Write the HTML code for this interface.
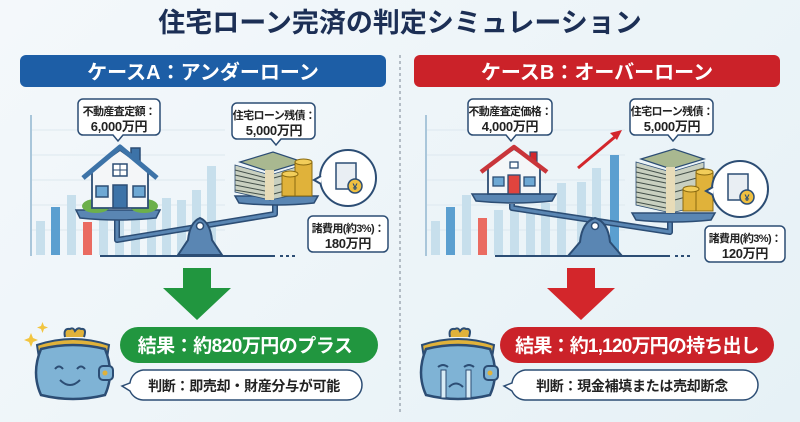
<!DOCTYPE html>
<html><head><meta charset="utf-8"><style>
html,body{margin:0;padding:0}
body{width:800px;height:422px;overflow:hidden;background:linear-gradient(135deg,#f4f8fb,#e6f1f6);font-family:"Liberation Sans","Noto Sans CJK JP",sans-serif}
svg{display:block}
text{font-family:"Liberation Sans","Noto Sans CJK JP",sans-serif;font-weight:bold}
.b1{font-size:11px;letter-spacing:-0.6px}
.b2{font-size:13px;letter-spacing:-0.3px}
</style></head><body>
<svg width="800" height="422" viewBox="0 0 800 422" xmlns="http://www.w3.org/2000/svg">
<text x="400" y="32" text-anchor="middle" font-size="27" fill="#1c2f55">住宅ローン完済の判定シミュレーション</text>
<line x1="400" y1="55" x2="400" y2="412" stroke="#7a8592" stroke-width="1" stroke-dasharray="3,3"/>
<rect x="20" y="55" width="366" height="32" rx="6" fill="#1d5ea6"/>
<text x="203" y="79" text-anchor="middle" font-size="20" fill="#fff">ケースA：アンダーローン</text>
<rect x="414" y="55" width="366" height="32" rx="6" fill="#cb2229"/>
<text x="597" y="79" text-anchor="middle" font-size="20" fill="#fff">ケースB：オーバーローン</text>

<g stroke="#dde8ef" stroke-width="1">
<line x1="30" y1="130" x2="225" y2="130"/><line x1="30" y1="155" x2="225" y2="155"/><line x1="30" y1="180" x2="225" y2="180"/><line x1="30" y1="205" x2="225" y2="205"/><line x1="30" y1="230" x2="225" y2="230"/>
<line x1="425" y1="130" x2="625" y2="130"/><line x1="425" y1="155" x2="625" y2="155"/><line x1="425" y1="180" x2="625" y2="180"/><line x1="425" y1="205" x2="625" y2="205"/><line x1="425" y1="230" x2="625" y2="230"/>
</g>
<line x1="31" y1="115" x2="31" y2="256" stroke="#a9c6da" stroke-width="2"/>
<g fill="#c7dfec">
<rect x="36" y="221" width="9" height="34"/><rect x="67" y="195" width="9" height="60"/><rect x="99" y="215" width="9" height="40"/><rect x="115" y="210" width="9" height="45"/><rect x="131" y="212" width="9" height="43"/><rect x="147" y="205" width="9" height="50"/><rect x="162" y="198" width="9" height="57"/><rect x="177" y="200" width="9" height="55"/><rect x="192" y="190" width="9" height="65"/><rect x="207" y="166" width="9" height="89"/>
</g>
<rect x="51" y="207" width="9" height="48" fill="#5b9fd0"/>
<rect x="83" y="222" width="9" height="33" fill="#ea6b61"/>
<line x1="100" y1="256" x2="275" y2="256" stroke="#2c4d74" stroke-width="2"/>
<line x1="280" y1="256" x2="295" y2="256" stroke="#2c4d74" stroke-width="2" stroke-dasharray="3,3"/>

<path d="M117 218 L117 240 L275 214 L275 205" fill="none" stroke="#2c4d74" stroke-width="6" stroke-linejoin="round"/>
<path d="M117 218 L117 240 L275 214 L275 205" fill="none" stroke="#5a86b3" stroke-width="3" stroke-linejoin="round"/>
<path d="M178 255 L188 240 Q190 222 200 218 Q210 222 212 240 L222 255 Z" fill="#5a86b3" stroke="#2c4d74" stroke-width="2"/>
<circle cx="200" cy="226" r="3.5" fill="#fff" stroke="#2c4d74" stroke-width="1.5"/>
<path d="M76 210 L160 210 L156 218 Q118 222 80 218 Z" fill="#5a86b3" stroke="#2c4d74" stroke-width="1.5"/>
<path d="M235 196 L318 196 L314 203 Q276 207 239 203 Z" fill="#5a86b3" stroke="#2c4d74" stroke-width="1.5"/>
<ellipse cx="96" cy="206" rx="14" ry="7" fill="#6cb04b"/><ellipse cx="144" cy="206" rx="14" ry="7" fill="#6cb04b"/>
<rect x="131" y="148" width="9" height="17" fill="#3d73a8" stroke="#2c4d74" stroke-width="1.5"/>
<path d="M92 170 L92 208 L148 208 L148 170 L120 150 Z" fill="#f4f6f8" stroke="#2c4d74" stroke-width="1.8"/>
<path d="M83 178 L120 147 L157 178" fill="none" stroke="#3d73a8" stroke-width="5" stroke-linejoin="round"/>
<rect x="113" y="164" width="14" height="12" fill="#fff" stroke="#2c4d74" stroke-width="1.5"/><line x1="120" y1="164" x2="120" y2="176" stroke="#2c4d74"/><line x1="113" y1="170" x2="127" y2="170" stroke="#2c4d74"/>
<rect x="96" y="186" width="12" height="11" fill="#6ea8d4" stroke="#2c4d74" stroke-width="1.5"/><rect x="133" y="186" width="12" height="11" fill="#6ea8d4" stroke="#2c4d74" stroke-width="1.5"/>
<rect x="113" y="185" width="14" height="23" fill="#3d73a8" stroke="#2c4d74" stroke-width="1.5"/>
<g transform="translate(235,150)">
<path d="M5 12 L38 2 L68 12 L35 22 Z" fill="#a9b890" stroke="#2c4d74" stroke-width="1.2"/>
<path d="M0 15 L35 25 L68 15 L68 43 L35 50 L0 42 Z" fill="#c9d0c0" stroke="#2c4d74" stroke-width="0.8"/>
<g stroke="#44504a" stroke-width="1"><line x1="0" y1="20" x2="35" y2="29"/><line x1="0" y1="25" x2="35" y2="33"/><line x1="0" y1="30" x2="35" y2="37"/><line x1="0" y1="35" x2="35" y2="42"/><line x1="0" y1="40" x2="35" y2="46"/><line x1="35" y1="29" x2="68" y2="20"/><line x1="35" y1="37" x2="68" y2="28"/><line x1="35" y1="45" x2="68" y2="36"/></g>
<rect x="30" y="20" width="9" height="30" fill="#e8dcb8"/>
<rect x="47" y="24" width="16" height="22" fill="#e0b23a" stroke="#8a6a10"/><rect x="60" y="12" width="17" height="34" fill="#e0b23a" stroke="#8a6a10"/>
<ellipse cx="68.5" cy="12" rx="8.5" ry="3" fill="#f2cd5a" stroke="#8a6a10"/><ellipse cx="55" cy="24" rx="8" ry="3" fill="#f2cd5a" stroke="#8a6a10"/>
</g>
<circle cx="348" cy="178" r="28" fill="#fff" stroke="#2c4d74" stroke-width="2"/>
<path d="M321 176 L314 180 L321 184" fill="#fff" stroke="#2c4d74" stroke-width="2"/>
<rect x="336" y="163" width="20" height="26" fill="#e9eef3" stroke="#2c4d74" stroke-width="1.5"/>
<circle cx="355" cy="186" r="7" fill="#f0c040" stroke="#2c4d74" stroke-width="1.5"/><text x="355" y="190" text-anchor="middle" font-size="9" fill="#2c4d74">¥</text>
<g fill="#fff" stroke="#2c4d74" stroke-width="1.5">
<path d="M83 99 h72 a5 5 0 0 1 5 5 v26 a5 5 0 0 1 -5 5 h-32 l-5 6 l-5 -6 h-30 a5 5 0 0 1 -5 -5 v-26 a5 5 0 0 1 5 -5z"/>
<path d="M237 103 h73 a5 5 0 0 1 5 5 v26 a5 5 0 0 1 -5 5 h-29 l-5 6 l-5 -6 h-34 a5 5 0 0 1 -5 -5 v-26 a5 5 0 0 1 5 -5z"/>
<path d="M313 216 h70 a5 5 0 0 1 5 5 v26 a5 5 0 0 1 -5 5 h-70 a5 5 0 0 1 -5 -5 v-26 a5 5 0 0 1 5 -5z"/>
</g>
<text x="119" y="115" text-anchor="middle" class="b1" fill="#222">不動産査定額：</text>
<text x="119" y="131" text-anchor="middle" class="b2" fill="#222">6,000万円</text>
<text x="274" y="119" text-anchor="middle" class="b1" fill="#222">住宅ローン残債：</text>
<text x="274" y="135" text-anchor="middle" class="b2" fill="#222">5,000万円</text>
<text x="348" y="232" text-anchor="middle" class="b1" fill="#222">諸費用(約3%)：</text>
<text x="348" y="248" text-anchor="middle" class="b2" fill="#222">180万円</text>
<path d="M183 268 h28 v20 h20 l-34 32 l-34 -32 h20 z" fill="#21963f"/>
<g transform="translate(33,323)">
<path d="M4 22 Q40 10 76 22 L74 35 L6 35 Z" fill="#e0b23a" stroke="#2c4d74" stroke-width="2"/>
<path d="M32 14 q-2 -9 5 -8 q3 -2 5 2 q3 -4 6 -2 q6 -1 3 8" fill="#e0b23a" stroke="#2c4d74" stroke-width="2"/>
<path d="M8 26 Q40 18 72 26 Q82 50 72 72 Q40 80 8 72 Q-2 50 8 26 Z" fill="#7fb3d5" stroke="#2c4d74" stroke-width="2.5"/>
<rect x="66" y="43" width="14" height="14" rx="4" fill="#7fb3d5" stroke="#2c4d74" stroke-width="2"/><circle cx="72" cy="50" r="2.5" fill="#e0b23a"/>
<path d="M22 46 q4 -5 8 0 M44 46 q4 -5 8 0" fill="none" stroke="#2c4d74" stroke-width="2"/>
<path d="M27 57 q10 10 20 0" fill="none" stroke="#2c4d74" stroke-width="2"/>
</g>
<path d="M-6 12 l2 -5 l2 5 l5 2 l-5 2 l-2 5 l-2 -5 l-5 -2z" transform="translate(35,326)" fill="#f2c540"/>
<path d="M-4 8 l1.5 -4 l1.5 4 l4 1.5 l-4 1.5 l-1.5 4 l-1.5 -4 l-4 -1.5z" transform="translate(45,318)" fill="#f2c540"/>
<rect x="120" y="327" width="258" height="36" rx="18" fill="#21963f"/>
<text x="245" y="352" text-anchor="middle" font-size="19" letter-spacing="-0.5" fill="#fff">結果：約820万円のプラス</text>
<path d="M143 370 h204 a15 15 0 0 1 0 30 h-204 a15 15 0 0 1 -13 -9 l-8 -5 l8 -3 a15 15 0 0 1 13 -13z" fill="#fff" stroke="#2c4d74" stroke-width="1.5"/>
<text x="244" y="391" text-anchor="middle" font-size="14" letter-spacing="-0.3" fill="#222">判断：即売却・財産分与が可能</text>

<line x1="426" y1="115" x2="426" y2="256" stroke="#a9c6da" stroke-width="2"/>
<g fill="#c7dfec">
<rect x="431" y="221" width="9" height="34"/><rect x="462" y="195" width="9" height="60"/><rect x="494" y="210" width="9" height="45"/><rect x="510" y="205" width="9" height="50"/><rect x="526" y="212" width="9" height="43"/><rect x="541" y="203" width="9" height="52"/><rect x="557" y="183" width="9" height="72"/><rect x="577" y="182" width="9" height="73"/><rect x="592" y="168" width="9" height="87"/>
</g>
<rect x="446" y="207" width="9" height="48" fill="#5b9fd0"/>
<rect x="478" y="218" width="9" height="37" fill="#ea6b61"/>
<rect x="610" y="155" width="9" height="100" fill="#5b9fd0"/>
<line x1="495" y1="256" x2="670" y2="256" stroke="#2c4d74" stroke-width="2"/>
<line x1="675" y1="256" x2="690" y2="256" stroke="#2c4d74" stroke-width="2" stroke-dasharray="3,3"/>
<path d="M578 168 L616 136" stroke="#d3262b" stroke-width="3"/><path d="M622 130 l-12 3 l7 7 z" fill="#d3262b"/>
<path d="M512 204 L512 208 L670 232 L670 218" fill="none" stroke="#2c4d74" stroke-width="6" stroke-linejoin="round"/>
<path d="M512 204 L512 208 L670 232 L670 218" fill="none" stroke="#5a86b3" stroke-width="3" stroke-linejoin="round"/>
<path d="M568 256 L580 242 Q582 222 595 218 Q608 222 610 242 L622 256 Z" fill="#5a86b3" stroke="#2c4d74" stroke-width="2"/>
<circle cx="595" cy="226" r="3.5" fill="#fff" stroke="#2c4d74" stroke-width="1.5"/>
<path d="M472 194 L556 194 L552 201 Q514 205 476 201 Z" fill="#5a86b3" stroke="#2c4d74" stroke-width="1.5"/>
<path d="M632 213 L715 213 L711 220 Q673 224 636 220 Z" fill="#5a86b3" stroke="#2c4d74" stroke-width="1.5"/>
<rect x="530" y="152" width="7" height="14" fill="#d3262b" stroke="#2c4d74" stroke-width="1.2"/>
<path d="M488 166 L488 194 L540 194 L540 166 L514 149 Z" fill="#f4f6f8" stroke="#2c4d74" stroke-width="1.8"/>
<path d="M481 172 L514 147 L547 172" fill="none" stroke="#c9353a" stroke-width="4.5" stroke-linejoin="round"/>
<rect x="510" y="162" width="8" height="6" fill="#fff" stroke="#2c4d74" stroke-width="1.3"/>
<rect x="493" y="177" width="11" height="9" fill="#6ea8d4" stroke="#2c4d74" stroke-width="1.3"/><rect x="524" y="177" width="11" height="9" fill="#6ea8d4" stroke="#2c4d74" stroke-width="1.3"/>
<rect x="508" y="175" width="12" height="19" fill="#e0443e" stroke="#2c4d74" stroke-width="1.3"/>
<g transform="translate(636,147)">
<path d="M5 12 L38 2 L68 12 L35 22 Z" fill="#a9b890" stroke="#2c4d74" stroke-width="1.2"/>
<path d="M0 15 L35 25 L68 15 L68 58 L35 66 L0 58 Z" fill="#c9d0c0" stroke="#2c4d74" stroke-width="0.8"/>
<g stroke="#44504a" stroke-width="1"><line x1="0" y1="20" x2="35" y2="29"/><line x1="0" y1="25" x2="35" y2="33"/><line x1="0" y1="30" x2="35" y2="37"/><line x1="0" y1="35" x2="35" y2="42"/><line x1="0" y1="40" x2="35" y2="47"/><line x1="0" y1="45" x2="35" y2="52"/><line x1="0" y1="50" x2="35" y2="57"/><line x1="0" y1="55" x2="35" y2="62"/><line x1="35" y1="30" x2="68" y2="21"/><line x1="35" y1="38" x2="68" y2="29"/><line x1="35" y1="46" x2="68" y2="37"/><line x1="35" y1="54" x2="68" y2="45"/></g>
<rect x="30" y="20" width="9" height="46" fill="#e8dcb8"/>
<rect x="47" y="42" width="16" height="22" fill="#e0b23a" stroke="#8a6a10"/><rect x="60" y="25" width="17" height="39" fill="#e0b23a" stroke="#8a6a10"/>
<ellipse cx="68.5" cy="25" rx="8.5" ry="3" fill="#f2cd5a" stroke="#8a6a10"/><ellipse cx="55" cy="42" rx="8" ry="3" fill="#f2cd5a" stroke="#8a6a10"/>
</g>
<circle cx="740" cy="189" r="28" fill="#fff" stroke="#2c4d74" stroke-width="2"/>
<path d="M713 187 L706 191 L713 195" fill="#fff" stroke="#2c4d74" stroke-width="2"/>
<rect x="728" y="174" width="20" height="26" fill="#e9eef3" stroke="#2c4d74" stroke-width="1.5"/>
<circle cx="747" cy="197" r="7" fill="#f0c040" stroke="#2c4d74" stroke-width="1.5"/><text x="747" y="201" text-anchor="middle" font-size="9" fill="#2c4d74">¥</text>
<g fill="#fff" stroke="#2c4d74" stroke-width="1.5">
<path d="M473 99 h74 a5 5 0 0 1 5 5 v26 a5 5 0 0 1 -5 5 h-31 l-5 6 l-5 -6 h-33 a5 5 0 0 1 -5 -5 v-26 a5 5 0 0 1 5 -5z"/>
<path d="M635 99 h73 a5 5 0 0 1 5 5 v26 a5 5 0 0 1 -5 5 h-30 l-5 6 l-5 -6 h-33 a5 5 0 0 1 -5 -5 v-26 a5 5 0 0 1 5 -5z"/>
<path d="M710 226 h70 a5 5 0 0 1 5 5 v26 a5 5 0 0 1 -5 5 h-70 a5 5 0 0 1 -5 -5 v-26 a5 5 0 0 1 5 -5z"/>
</g>
<text x="510" y="115" text-anchor="middle" class="b1" fill="#222">不動産査定価格：</text>
<text x="510" y="131" text-anchor="middle" class="b2" fill="#222">4,000万円</text>
<text x="672" y="115" text-anchor="middle" class="b1" fill="#222">住宅ローン残債：</text>
<text x="672" y="131" text-anchor="middle" class="b2" fill="#222">5,000万円</text>
<text x="745" y="242" text-anchor="middle" class="b1" fill="#222">諸費用(約3%)：</text>
<text x="745" y="258" text-anchor="middle" class="b2" fill="#222">120万円</text>
<path d="M567 268 h28 v20 h20 l-34 32 l-34 -32 h20 z" fill="#d3262b"/>
<g transform="translate(418,323)">
<path d="M4 22 Q40 10 76 22 L74 35 L6 35 Z" fill="#e0b23a" stroke="#2c4d74" stroke-width="2"/>
<path d="M32 14 q-2 -9 5 -8 q3 -2 5 2 q3 -4 6 -2 q6 -1 3 8" fill="#e0b23a" stroke="#2c4d74" stroke-width="2"/>
<path d="M8 26 Q40 18 72 26 Q82 50 72 72 Q40 80 8 72 Q-2 50 8 26 Z" fill="#7fb3d5" stroke="#2c4d74" stroke-width="2.5"/>
<rect x="66" y="43" width="14" height="14" rx="4" fill="#7fb3d5" stroke="#2c4d74" stroke-width="2"/><circle cx="72" cy="50" r="2.5" fill="#e0b23a"/>
<path d="M20 44 q5 -4 10 0 M46 44 q5 -4 10 0" fill="none" stroke="#2c4d74" stroke-width="2"/>
<rect x="23" y="47" width="5" height="28" fill="#d8ecf6" stroke="#2c4d74" stroke-width="1"/><rect x="48" y="47" width="5" height="28" fill="#d8ecf6" stroke="#2c4d74" stroke-width="1"/>
<path d="M31 64 q7 -7 14 0" fill="none" stroke="#2c4d74" stroke-width="2"/>
</g>
<rect x="500" y="327" width="274" height="36" rx="18" fill="#cb2229"/>
<text x="637" y="352" text-anchor="middle" font-size="19" letter-spacing="-0.8" fill="#fff">結果：約1,120万円の持ち出し</text>
<path d="M525 370 h218 a15 15 0 0 1 0 30 h-218 a15 15 0 0 1 -13 -9 l-8 -5 l8 -3 a15 15 0 0 1 13 -13z" fill="#fff" stroke="#2c4d74" stroke-width="1.5"/>
<text x="632" y="391" text-anchor="middle" font-size="14" letter-spacing="-0.3" fill="#222">判断：現金補填または売却断念</text>
</svg>
</body></html>
